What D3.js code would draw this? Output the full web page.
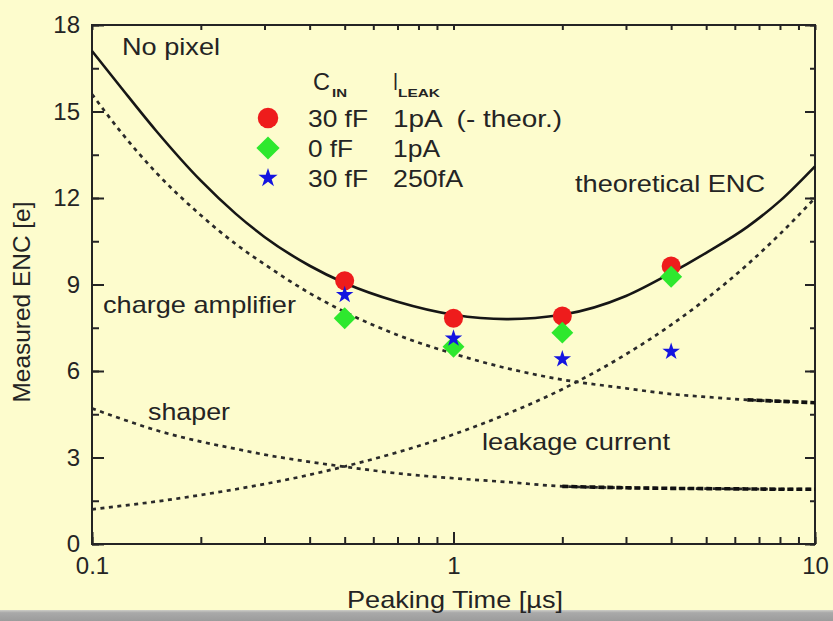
<!DOCTYPE html>
<html>
<head>
<meta charset="utf-8">
<script src="https://cdnjs.cloudflare.com/ajax/libs/d3/7.8.5/d3.min.js"></script>
<style>
  body { margin: 0; background: #fdfccd; }
  svg { display: block; font-family: "Liberation Sans", Arial, sans-serif; }
</style>
</head>
<body>
<div id="chart"></div>
<script>
// measured ENC points
var peakTimes = [0.5, 1, 2, 4];
var encRed = [9.13, 7.83, 7.91, 9.64];
var encGreen = [7.83, 6.84, 7.33, 9.27];
var encBlue = [8.64, 7.13, 6.41, 6.67];

var curveTimes = [0.1, 0.12, 0.15, 0.2, 0.25, 0.3, 0.4, 0.5, 0.7, 1, 1.4, 2, 3, 4, 5, 6.5, 8, 10];
var theoreticalEnc = [17.1, 15.85, 14.35, 12.6, 11.45, 10.65, 9.65, 9.05, 8.4, 7.95, 7.8, 7.95, 8.6, 9.4, 10.1, 11.0, 11.9, 13.1];
var chargeAmp = [15.6, 14.3, 12.9, 11.4, 10.4, 9.7, 8.7, 8.05, 7.25, 6.6, 6.1, 5.7, 5.4, 5.2, 5.1, 5.0, 4.95, 4.9];
var shaperNoise = [4.7, 4.35, 3.95, 3.55, 3.3, 3.1, 2.85, 2.68, 2.45, 2.28, 2.15, 2.0, 1.95, 1.93, 1.92, 1.91, 1.9, 1.9];
var leakageNoise = [1.2, 1.32, 1.47, 1.7, 1.9, 2.08, 2.4, 2.69, 3.18, 3.8, 4.5, 5.37, 6.58, 7.6, 8.5, 9.69, 10.75, 12.0];

var yTicks = [0, 3, 6, 9, 12, 15, 18];
var xTickLabels = [0.1, 1, 10];
var legendCin = ["30 fF", "0 fF", "30 fF"];
var legendIleak = ["1pA  (- theor.)", "1pA", "250fA"];
var legendColors = ["#ee1c1c", "#2ee82e", "#1414e0"];

var svgWidth = 833, svgHeight = 621;
var margins = { top: 25, bottom: 77, left: 92, right: 18 };
var ink = "#242424";

var svg = d3.select("#chart")
    .append("svg")
    .attr("width", svgWidth)
    .attr("height", svgHeight);

var defs = svg.append("defs");
var grad = defs.append("linearGradient")
    .attr("id", "grayBar")
    .attr("x1", 0).attr("y1", 0).attr("x2", 0).attr("y2", 1);
grad.append("stop").attr("offset", "0%").attr("stop-color", "#cfcfc8");
grad.append("stop").attr("offset", "25%").attr("stop-color", "#a9a9a9");
grad.append("stop").attr("offset", "100%").attr("stop-color", "#9c9c9c");

svg.append("rect")
    .attr("width", svgWidth).attr("height", svgHeight)
    .attr("fill", "#fdfccd");
svg.append("rect")
    .attr("y", 610).attr("width", svgWidth).attr("height", svgHeight - 610)
    .attr("fill", "url(#grayBar)");

var x = d3.scaleLog()
    .domain([0.1, 10])
    .range([margins.left, svgWidth - margins.right]);
var y = d3.scaleLinear()
    .domain([0, 18])
    .range([svgHeight - margins.bottom, margins.top]);

var x0 = margins.left, x1 = svgWidth - margins.right;
var y0 = svgHeight - margins.bottom, y1 = margins.top;

function styleAxis(g) {
    g.select(".domain").remove();
    g.attr("font-size", 24).attr("font-family", null).attr("color", ink);
    g.selectAll("line").attr("stroke-width", 2);
}

var yMinor = d3.range(0, 18.01, 1.5);

// bottom axis
svg.append("g").attr("transform", `translate(0,${y0})`)
    .call(d3.axisBottom(x).tickValues(x.ticks()).tickSize(-7).tickFormat(""))
    .call(styleAxis);
svg.append("g").attr("transform", `translate(0,${y0})`)
    .call(d3.axisBottom(x).tickValues(xTickLabels).tickSize(-12).tickPadding(13).tickFormat(d3.format("")))
    .call(styleAxis);
// top axis
svg.append("g").attr("transform", `translate(0,${y1})`)
    .call(d3.axisTop(x).tickValues(x.ticks()).tickSize(-5).tickFormat(""))
    .call(styleAxis);
// left axis
svg.append("g").attr("transform", `translate(${x0},0)`)
    .call(d3.axisLeft(y).tickValues(yMinor).tickSize(-7).tickFormat(""))
    .call(styleAxis);
svg.append("g").attr("transform", `translate(${x0},0)`)
    .call(d3.axisLeft(y).tickValues(yTicks).tickSize(-12).tickPadding(12))
    .call(styleAxis);
// right axis
svg.append("g").attr("transform", `translate(${x1},0)`)
    .call(d3.axisRight(y).tickValues(yMinor).tickSize(-5).tickFormat(""))
    .call(styleAxis);
svg.append("g").attr("transform", `translate(${x1},0)`)
    .call(d3.axisRight(y).tickValues(yTicks).tickSize(-10).tickFormat(""))
    .call(styleAxis);

svg.append("rect")
    .attr("x", x0).attr("y", y1)
    .attr("width", x1 - x0).attr("height", y0 - y1)
    .attr("fill", "none").attr("stroke", ink).attr("stroke-width", 2);

// curves
var line = d3.line()
    .x(d => x(d[0]))
    .y(d => y(d[1]))
    .curve(d3.curveMonotoneX);

function pairs(vals) { return curveTimes.map((t, i) => [t, vals[i]]); }

var plot = svg.append("g");
plot.append("path")
    .datum(pairs(theoreticalEnc))
    .attr("d", line)
    .attr("fill", "none").attr("stroke", "#161616").attr("stroke-width", 2.6);

[chargeAmp, shaperNoise, leakageNoise].forEach(function(vals) {
    plot.append("path")
        .datum(pairs(vals))
        .attr("d", line)
        .attr("fill", "none").attr("stroke", "#2a2a2a")
        .attr("stroke-width", 2.7).attr("stroke-dasharray", "4,4.5");
});

// heavier dashes near the right edge
plot.append("path")
    .datum(pairs(chargeAmp).filter(d => d[0] >= 6.5))
    .attr("d", line)
    .attr("fill", "none").attr("stroke", "#111")
    .attr("stroke-width", 3.6).attr("stroke-dasharray", "6,3");
plot.append("path")
    .datum(pairs(shaperNoise).filter(d => d[0] >= 2))
    .attr("d", line)
    .attr("fill", "none").attr("stroke", "#111")
    .attr("stroke-width", 3.6).attr("stroke-dasharray", "6,3");

// markers
var circleSym = d3.symbol().type(d3.symbolCircle).size(285);
var diamondSym = d3.symbol().type(d3.symbolSquare).size(240);
var starSym = d3.symbol().type(d3.symbolStar).size(95);
var markerSyms = [circleSym, diamondSym, starSym];
var rotations = [0, 45, 0];

[encRed, encGreen, encBlue].forEach(function(vals, k) {
    plot.selectAll(".m" + k)
        .data(peakTimes.map((t, i) => [t, vals[i]]))
        .enter()
        .append("path")
        .attr("class", "m" + k)
        .attr("transform", d => `translate(${x(d[0])},${y(d[1])}) rotate(${rotations[k]})`)
        .attr("d", markerSyms[k]())
        .attr("fill", legendColors[k]);
});

// labels
function addLabel(txt, xPos, yPos, len, size) {
    return svg.append("text")
        .attr("x", xPos).attr("y", yPos)
        .attr("font-size", size || 24)
        .attr("fill", ink)
        .attr("textLength", len)
        .attr("lengthAdjust", "spacingAndGlyphs")
        .style("white-space", "pre")
        .text(txt);
}

addLabel("No pixel", 122, 55, 98);
addLabel("theoretical ENC", 575, 192, 190);
addLabel("charge amplifier", 103, 313, 193);
addLabel("shaper", 148, 420, 82);
addLabel("leakage current", 482, 450, 188);
addLabel("Peaking Time [µs]", 347, 608, 216);

svg.append("text")
    .attr("transform", "translate(30,302) rotate(-90)")
    .attr("font-size", 24)
    .attr("fill", ink)
    .attr("text-anchor", "middle")
    .attr("textLength", 201)
    .attr("lengthAdjust", "spacingAndGlyphs")
    .text("Measured ENC [e]");

// legend
addLabel("C", 313, 90, 17);
addLabel("IN", 332, 97, 15, 10).attr("font-weight", "bold");
addLabel("I", 393, 90, 5);
addLabel("LEAK", 398, 97, 42, 10).attr("font-weight", "bold");

var cinWidths = [60, 45, 60];
var leakWidths = [169, 47, 70];
legendCin.forEach(function(txt, i) {
    var cy = 118 + i * 30;
    svg.append("path")
        .attr("transform", `translate(268,${cy}) rotate(${rotations[i]})`)
        .attr("d", markerSyms[i].size([330, 270, 115][i])())
        .attr("fill", legendColors[i]);
    addLabel(txt, 308, cy + 9, cinWidths[i]);
    addLabel(legendIleak[i], 393, cy + 9, leakWidths[i]);
});
</script>
</body>
</html>
